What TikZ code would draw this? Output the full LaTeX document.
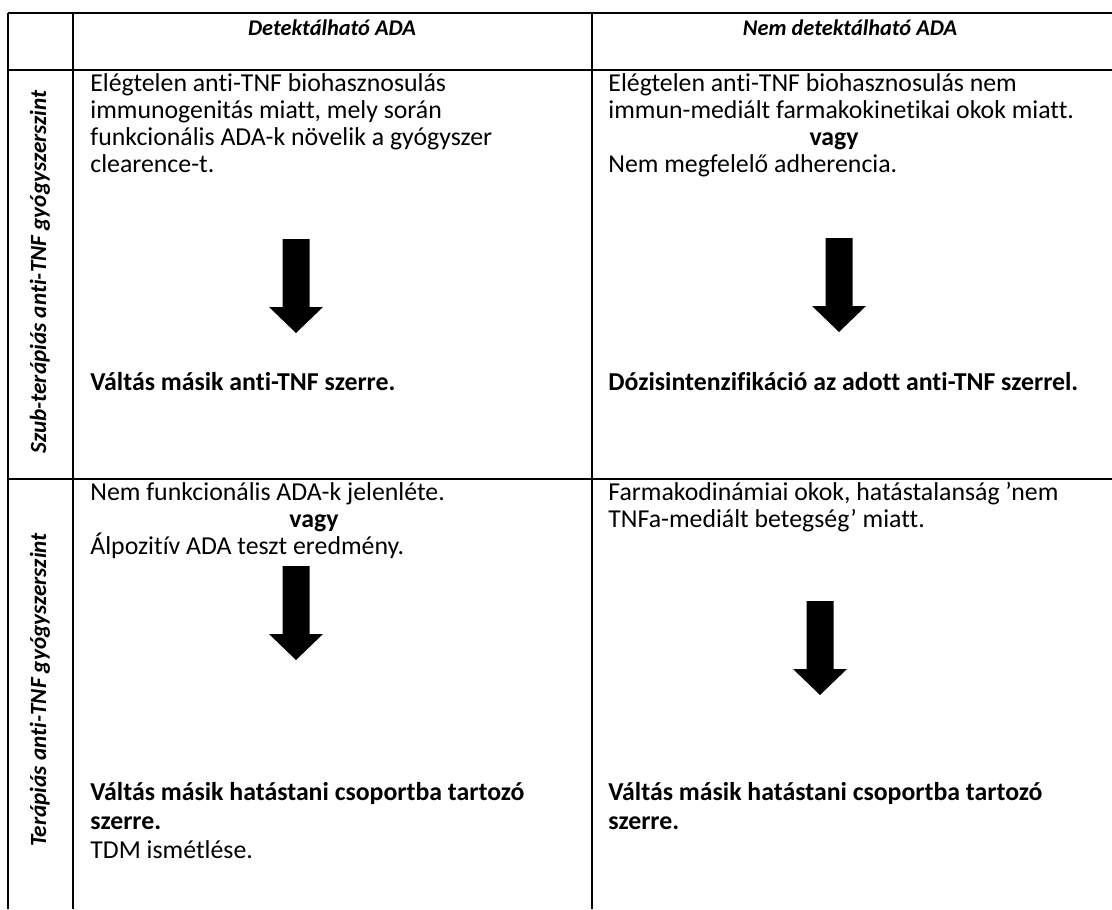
\documentclass[tikz,border=0pt]{standalone}
\usepackage{fontspec}
\setmainfont{Carlito}[Ligatures=NoCommon]
\begin{document}
\begin{tikzpicture}[x=0.5pt,y=-0.5pt,
  grid/.style={line width=1.3pt},
  txt/.style={anchor=base west,inner sep=0pt,font=\fontsize{12.9}{16}\selectfont},
  btxt/.style={txt,font=\fontsize{12.9}{16}\selectfont\bfseries},
  orword/.style={anchor=base,inner sep=0pt,font=\fontsize{12.9}{16}\selectfont\bfseries},
  hdr/.style={anchor=base,inner sep=0pt,font=\fontsize{11.2}{13}\selectfont\bfseries\itshape},
  rowlbl/.style={rotate=90,anchor=center,inner sep=0pt,font=\fontsize{11.6}{14}\selectfont\bfseries\itshape},
  blockarrow/.style={fill=black,draw=none}]
\useasboundingbox (0,0) rectangle (1112,909);
% grid
\draw[grid] (8,13) -- (1112,13);
\draw[grid] (8,70) -- (1112,70);
\draw[grid] (8,479) -- (1112,479);
\draw[grid] (8,13) -- (8,909);
\draw[grid] (73,13) -- (73,909);
\draw[grid] (592,13) -- (592,909);
% headers
\node[hdr] (h1) at (332,36) {Detektálható ADA};
\node[hdr] (h2) at (850,36) {Nem detektálható ADA};
% row labels
\node[rowlbl] (r1) at (40,272) {Szub-terápiás anti-TNF gyógyszerszint};
\node[rowlbl] (r2) at (40,690) {Terápiás anti-TNF gyógyszerszint};
% row 1 col 1
\node[txt] (a1) at (90,92) {Elégtelen anti-TNF biohasznosulás};
\node[txt] (a2) at (90,119) {immunogenitás miatt, mely során};
\node[txt] (a3) at (90,146) {funkcionális ADA-k növelik a gyógyszer};
\node[txt] (a4) at (90,173) {clearence-t.};
\node[btxt] (a5) at (90,390) {Váltás másik anti-TNF szerre.};
% row 1 col 2
\node[txt] (b1) at (608,92) {Elégtelen anti-TNF biohasznosulás nem};
\node[txt] (b2) at (608,119) {immun-mediált farmakokinetikai okok miatt.};
\node[orword] (b3) at (834,146) {vagy};
\node[txt] (b4) at (608,173) {Nem megfelelő adherencia.};
\node[btxt] (b5) at (608,390) {Dózisintenzifikáció az adott anti-TNF szerrel.};
% row 2 col 1
\node[txt] (c1) at (90,500) {Nem funkcionális ADA-k jelenléte.};
\node[orword] (c2) at (314,527) {vagy};
\node[txt] (c3) at (90,554) {Álpozitív ADA teszt eredmény.};
\node[btxt] (c4) at (90,800) {Váltás másik hatástani csoportba tartozó};
\node[btxt] (c5) at (90,829) {szerre.};
\node[txt] (c6) at (90,858) {TDM ismétlése.};
% row 2 col 2
\node[txt] (d1) at (608,500) {Farmakodinámiai okok, hatástalanság ’nem};
\node[txt] (d2) at (608,527) {TNFa-mediált betegség’ miatt.};
\node[btxt] (d3) at (608,800) {Váltás másik hatástani csoportba tartozó};
\node[btxt] (d4) at (608,829) {szerre.};
% block arrows
\foreach \cx/\ty in {296/239, 839/238, 296/566, 820/601}{
  \fill[blockarrow] (\cx-13.5,\ty) -- (\cx+13.5,\ty) -- (\cx+13.5,\ty+68) -- (\cx+27,\ty+68)
     -- (\cx,\ty+94) -- (\cx-27,\ty+68) -- (\cx-13.5,\ty+68) -- cycle;
}
\end{tikzpicture}
\end{document}
